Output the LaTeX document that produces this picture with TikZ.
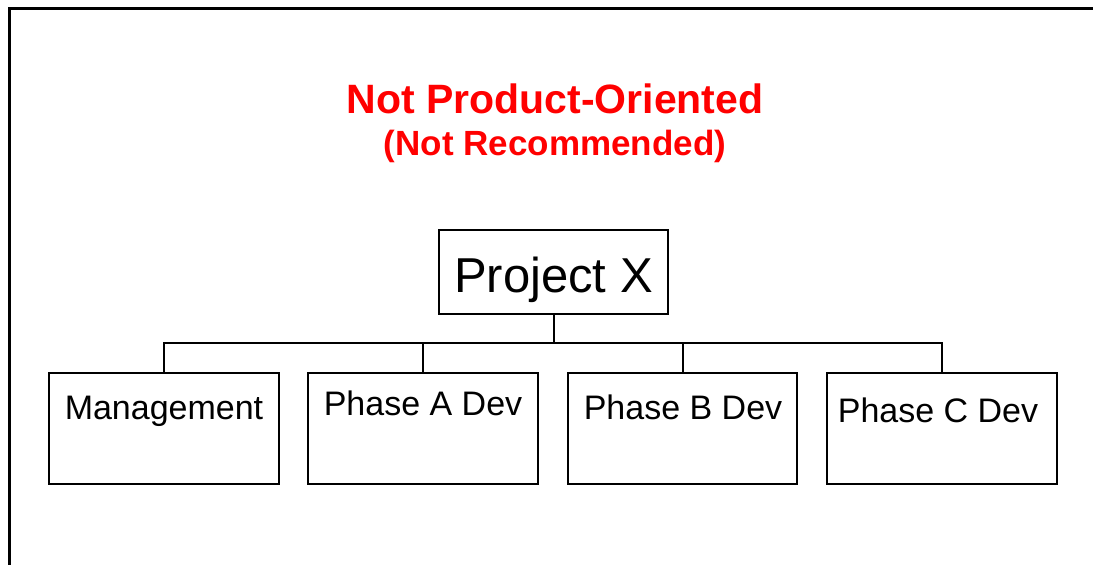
\documentclass[tikz,border=0pt]{standalone}
\usepackage{fontspec}
\setmainfont{Liberation Sans}
\definecolor{titlered}{RGB}{255,0,0}
\tikzset{
  wbsbox/.style={draw=black, line width=2pt, fill=white, rectangle, inner sep=0pt},
  boxtext/.style={anchor=base, inner sep=0pt, font=\fontsize{34}{40}\selectfont},
  conn/.style={draw=black, line width=2pt},
  titletext/.style={anchor=base, inner sep=0pt, text=titlered, font=\bfseries\fontsize{41}{48}\selectfont},
  subtext/.style={anchor=base, inner sep=0pt, text=titlered, font=\bfseries\fontsize{35}{42}\selectfont}
}
\begin{document}
\begin{tikzpicture}[x=1pt,y=-1pt]
\useasboundingbox (0,0) rectangle (1093,565);
\fill[white] (0,0) rectangle (1093,565);
% frame (top and left only)
\draw[line width=3pt] (9,566) -- (9,8) -- (1094,8);
% title
\node[titletext] (title) at (555,113) {Not Product-Oriented};
\node[subtext] (subtitle) at (555,155) {(Not Recommended)};
% boxes
\node[wbsbox, minimum width=229pt, minimum height=84pt] (px) at (553.5,272) {};
\node[anchor=base, inner sep=0pt, font=\fontsize{49}{56}\selectfont] (pxt) at (553.5,292) {Project X};
\node[wbsbox, minimum width=230pt, minimum height=111pt] (m) at (164,428.5) {};
\node[wbsbox, minimum width=230pt, minimum height=111pt] (a) at (423,428.5) {};
\node[wbsbox, minimum width=229pt, minimum height=111pt] (b) at (682.5,428.5) {};
\node[wbsbox, minimum width=230pt, minimum height=111pt] (c) at (942,428.5) {};
\node[boxtext] (mt) at (164,419) {Management};
\node[boxtext] (at) at (423,415) {Phase A Dev};
\node[boxtext] (bt) at (683,419) {Phase B Dev};
\node[boxtext] (ct) at (938,422) {Phase C Dev};
% connectors
\coordinate (bar) at (553.5,343);
\draw[conn] (px.south) -- (bar);
\draw[conn] (m.north) -- (m.north |- bar) -- (c.north |- bar) -- (c.north);
\draw[conn] (a.north) -- (a.north |- bar);
\draw[conn] (b.north) -- (b.north |- bar);
\end{tikzpicture}
\end{document}
